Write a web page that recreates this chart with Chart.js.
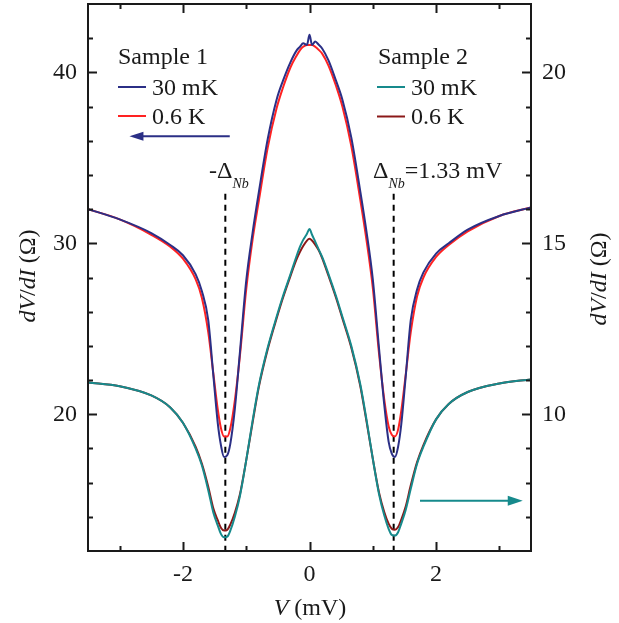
<!DOCTYPE html>
<html>
<head>
<meta charset="utf-8">
<script src="https://cdn.jsdelivr.net/npm/chart.js@4.4.1/dist/chart.umd.min.js"></script>
<style>
  body { margin: 0; background: #fff; }
  #wrap { width: 619px; height: 623px; }
</style>
</head>
<body>
<div id="wrap"><canvas id="dvdi" width="619" height="623"></canvas></div>
<script>
// bias voltage (mV), shared grid for all four curves
const voltage = [-3.5, -3.0, -2.5, -2.2, -2.0, -1.8, -1.7, -1.6, -1.52, -1.45, -1.4, -1.35, -1.3, -1.25, -1.18, -1.1, -1.0, -0.9, -0.8, -0.66, -0.52, -0.42, -0.3, -0.2, -0.15, -0.1, -0.04, 0,
  0.04, 0.09, 0.15, 0.2, 0.3, 0.42, 0.52, 0.66, 0.8, 0.9, 1.0, 1.1, 1.18, 1.25, 1.3, 1.35, 1.4, 1.45, 1.52, 1.6, 1.7, 1.8, 2.0, 2.2, 2.5, 3.0, 3.5];

// Sample 1 (left axis, Ohm)
const s1Cold = [32.0, 31.4, 30.6, 29.9, 29.3, 28.2, 27.2, 25.5, 22.3, 19.5, 18.2, 17.5, 17.6, 18.3, 20.3, 23.6, 27.8, 30.6, 33.0, 36.1, 38.4, 39.5, 40.6, 41.3, 41.5, 41.7, 41.6, 42.2,
  41.6, 41.8, 41.6, 41.4, 40.7, 39.5, 38.4, 36.2, 33.1, 30.7, 27.9, 23.8, 20.6, 18.4, 17.7, 17.5, 18.1, 19.4, 22.2, 25.5, 27.3, 28.3, 29.4, 30.0, 30.8, 31.6, 32.1];
const s1Warm = [32.0, 31.4, 30.5, 29.8, 29.1, 27.9, 26.8, 24.8, 22.4, 20.3, 19.2, 18.7, 18.7, 19.2, 20.8, 23.4, 27.3, 30.2, 32.5, 35.6, 37.9, 39.1, 40.3, 41.0, 41.3, 41.5, 41.6, 41.6,
  41.6, 41.5, 41.3, 41.1, 40.4, 39.2, 38.0, 35.7, 32.6, 30.2, 27.4, 23.5, 20.9, 19.3, 18.8, 18.7, 19.1, 20.2, 22.3, 24.8, 26.9, 28.0, 29.2, 29.9, 30.7, 31.6, 32.1];

// Sample 2 (right axis, Ohm)
const s2Cold = [10.93, 10.82, 10.55, 10.2, 9.75, 9.0, 8.5, 7.78, 7.13, 6.75, 6.5, 6.4, 6.42, 6.6, 7.0, 7.6, 8.65, 9.8, 10.85, 11.95, 12.85, 13.45, 14.1, 14.65, 14.9, 15.1, 15.28, 15.42,
  15.25, 15.05, 14.8, 14.6, 14.1, 13.45, 12.85, 12.0, 10.9, 9.85, 8.7, 7.65, 7.05, 6.65, 6.47, 6.45, 6.55, 6.8, 7.2, 7.82, 8.55, 9.05, 9.85, 10.3, 10.65, 10.9, 11.02];
const s2Warm = [10.93, 10.82, 10.55, 10.2, 9.75, 9.05, 8.55, 7.88, 7.25, 6.9, 6.68, 6.6, 6.62, 6.78, 7.12, 7.65, 8.65, 9.75, 10.8, 11.9, 12.8, 13.4, 14.05, 14.55, 14.75, 14.92, 15.08, 15.13,
  15.08, 14.96, 14.78, 14.57, 14.05, 13.4, 12.8, 11.95, 10.85, 9.8, 8.7, 7.7, 7.15, 6.8, 6.65, 6.62, 6.7, 6.92, 7.3, 7.92, 8.6, 9.1, 9.85, 10.3, 10.65, 10.9, 11.02];

const deltaNb = 1.33;
const xTicks = [-2, 0, 2];
const leftTicks = [20, 30, 40];
const rightTicks = [10, 15, 20];

const navy = '#2b2f86';
const red = '#ff2222';
const teal = '#168a8c';
const maroon = '#8b1818';
const ink = '#1a1a1a';
const serif = '"Liberation Serif", "Times New Roman", serif';

function pts(ys) {
  return voltage.map((v, i) => ({x: v, y: ys[i]}));
}

function curve(label, ys, color, axis) {
  return {
    label: label,
    data: pts(ys),
    yAxisID: axis,
    borderColor: color,
    borderWidth: 2,
    pointRadius: 0,
    cubicInterpolationMode: 'monotone',
    fill: false
  };
}

function marker(v) {
  return {
    data: [{x: v, y: 32.9}, {x: v, y: 12}],
    yAxisID: 'y',
    borderColor: '#000',
    borderWidth: 2,
    borderDash: [6, 5],
    pointRadius: 0
  };
}

// writes a run of text pieces [text, font, dy] left to right
function runText(ctx, parts, x, y) {
  let cx = x;
  parts.forEach(p => {
    ctx.font = p[1];
    ctx.fillText(p[0], cx, y + (p[2] || 0));
    cx += ctx.measureText(p[0]).width;
  });
  return cx;
}

function runWidth(ctx, parts) {
  let w = 0;
  parts.forEach(p => { ctx.font = p[1]; w += ctx.measureText(p[0]).width; });
  return w;
}

function arrow(ctx, x1, x2, y, color, head, half) {
  const dir = x2 > x1 ? 1 : -1;
  ctx.strokeStyle = color;
  ctx.fillStyle = color;
  ctx.lineWidth = 2;
  ctx.beginPath();
  ctx.moveTo(x1, y);
  ctx.lineTo(x2 - dir * head * 0.6, y);
  ctx.stroke();
  ctx.beginPath();
  ctx.moveTo(x2, y);
  ctx.lineTo(x2 - dir * head, y - half);
  ctx.lineTo(x2 - dir * head, y + half);
  ctx.closePath();
  ctx.fill();
}

const frame = {
  id: 'frame',
  afterDraw(chart) {
    const {ctx, chartArea: a, scales} = chart;
    const x = scales.x, y = scales.y, y2 = scales.y2;
    ctx.save();

    // ticks, pointing inward on all four sides
    ctx.strokeStyle = ink;
    ctx.lineWidth = 2;
    ctx.beginPath();
    for (let v = -3; v <= 3; v++) {
      const px = Math.round(x.getPixelForValue(v)) + 0.5;
      const len = v % 2 === 0 ? 9 : 5;
      ctx.moveTo(px, a.bottom); ctx.lineTo(px, a.bottom - len);
      ctx.moveTo(px, a.top); ctx.lineTo(px, a.top + len);
    }
    for (let v = 14; v <= 42; v += 2) {
      const py = Math.round(y.getPixelForValue(v)) + 0.5;
      const len = v % 10 === 0 ? 9 : 5;
      ctx.moveTo(a.left, py); ctx.lineTo(a.left + len, py);
    }
    for (let v = 7; v <= 21; v++) {
      const py = Math.round(y2.getPixelForValue(v)) + 0.5;
      const len = v % 5 === 0 ? 9 : 5;
      ctx.moveTo(a.right, py); ctx.lineTo(a.right - len, py);
    }
    ctx.stroke();
    ctx.strokeRect(a.left, a.top, a.right - a.left, a.bottom - a.top);

    // legends
    const big = '24px ' + serif;
    ctx.fillStyle = ink;
    ctx.textBaseline = 'alphabetic';
    ctx.textAlign = 'left';
    ctx.font = big;
    ctx.fillText('Sample 1', 118, 64);
    ctx.fillText('30 mK', 152, 95);
    ctx.fillText('0.6 K', 152, 124);
    ctx.fillText('Sample 2', 378, 64);
    ctx.fillText('30 mK', 411, 95);
    ctx.fillText('0.6 K', 411, 124);
    [[118, 87, navy], [118, 116, red], [377, 87, teal], [377, 116.5, maroon]].forEach(s => {
      ctx.strokeStyle = s[2];
      ctx.lineWidth = 2;
      ctx.beginPath();
      ctx.moveTo(s[0], s[1]);
      ctx.lineTo(s[0] + 28, s[1]);
      ctx.stroke();
    });

    // arrows telling which axis belongs to which sample
    arrow(ctx, x.getPixelForValue(-1.26), x.getPixelForValue(-2.845), y.getPixelForValue(36.27), navy, 14, 4.5);
    arrow(ctx, x.getPixelForValue(1.746), x.getPixelForValue(3.37), y2.getPixelForValue(7.47), teal, 15, 5);

    // gap labels
    const sub = 'italic 14px ' + serif;
    ctx.fillStyle = ink;
    runText(ctx, [['-', big], ['\u0394', big], ['Nb', sub, 10]], 209, 178);
    runText(ctx, [['\u0394', big], ['Nb', sub, 10], ['=' + deltaNb.toFixed(2) + ' mV', big]], 373, 178);

    // axis titles
    const it = 'italic 24px ' + serif;
    const yTitle = [['dV', it], ['/', big], ['dI', it], [' (\u03A9)', big]];
    const tw = runWidth(ctx, yTitle);
    ctx.save();
    ctx.translate(35, 276);
    ctx.rotate(-Math.PI / 2);
    runText(ctx, yTitle, -tw / 2, 0);
    ctx.restore();
    ctx.save();
    ctx.translate(606, 279);
    ctx.rotate(-Math.PI / 2);
    runText(ctx, yTitle, -tw / 2, 0);
    ctx.restore();
    const xTitle = [['V', it], [' (mV)', big]];
    runText(ctx, xTitle, 310 - runWidth(ctx, xTitle) / 2, 615);

    ctx.restore();
  }
};

function fixTicks(list) {
  return scale => { scale.ticks = list.map(v => ({value: v})); };
}

function fixSize(w, h) {
  return s => {
    if (w) s.width = w;
    if (h) s.height = h;
    s.paddingTop = 0; s.paddingBottom = 0;
    s.paddingLeft = 0; s.paddingRight = 0;
  };
}

const tickFont = {family: serif, size: 24};

new Chart(document.getElementById('dvdi'), {
  type: 'line',
  data: {
    datasets: [
      curve('30 mK', s1Cold, navy, 'y'),
      curve('0.6 K', s1Warm, red, 'y'),
      curve('30 mK', s2Cold, teal, 'y2'),
      curve('0.6 K', s2Warm, maroon, 'y2'),
      marker(-deltaNb),
      marker(deltaNb)
    ]
  },
  options: {
    responsive: false,
    animation: false,
    devicePixelRatio: 1,
    layout: {padding: {top: 4, left: 0, right: 0, bottom: 0}},
    plugins: {legend: {display: false}, tooltip: {enabled: false}},
    scales: {
      x: {
        type: 'linear',
        min: -3.5, max: 3.5,
        grid: {display: false, drawTicks: false},
        border: {display: false},
        afterBuildTicks: fixTicks(xTicks),
        afterFit: fixSize(0, 72),
        ticks: {font: tickFont, color: ink, padding: 9, maxRotation: 0, autoSkip: false}
      },
      y: {
        position: 'left',
        min: 12, max: 44,
        grid: {display: false, drawTicks: false},
        border: {display: false},
        afterBuildTicks: fixTicks(leftTicks),
        afterFit: fixSize(88, 0),
        ticks: {font: tickFont, color: ink, padding: 11}
      },
      y2: {
        position: 'right',
        min: 6, max: 22,
        grid: {display: false, drawTicks: false},
        border: {display: false},
        afterBuildTicks: fixTicks(rightTicks),
        afterFit: fixSize(88, 0),
        ticks: {font: tickFont, color: ink, padding: 11}
      }
    }
  },
  plugins: [frame]
});
</script>
</body>
</html>
